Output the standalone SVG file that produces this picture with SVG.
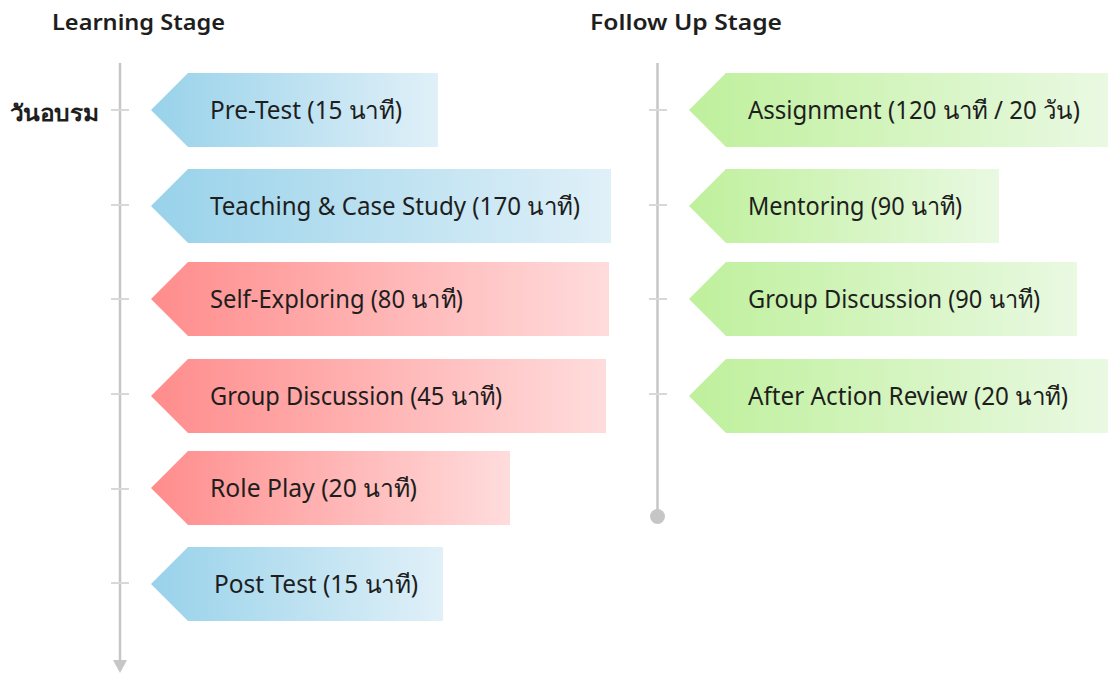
<svg xmlns="http://www.w3.org/2000/svg" width="1108" height="673" viewBox="0 0 1108 673">
<defs>
<linearGradient id="gBlue" x1="0" y1="0" x2="1" y2="0"><stop offset="0" stop-color="#98d2ea"/><stop offset="1" stop-color="#e0f0f8"/></linearGradient>
<linearGradient id="gRed" x1="0" y1="0" x2="1" y2="0"><stop offset="0" stop-color="#ff8c8c"/><stop offset="1" stop-color="#ffdcdc"/></linearGradient>
<linearGradient id="gGreen" x1="0" y1="0" x2="1" y2="0"><stop offset="0" stop-color="#bff09c"/><stop offset="1" stop-color="#e9f9e2"/></linearGradient>
<style>
.lbl{font-family:"Noto Sans","Liberation Sans",sans-serif;font-size:25px;fill:#1e1e1e}
.hdr{font-family:"Noto Sans","Liberation Sans",sans-serif;font-size:22px;font-weight:600;fill:#1e1e1e}
.line{stroke:#c6c6c6;stroke-width:2.5;fill:none}
.tick{stroke:#d8d8d8;stroke-width:2;fill:none}
.blue{fill:url(#gBlue)}
.red{fill:url(#gRed)}
.green{fill:url(#gGreen)}
</style>
</defs>
<rect width="1108" height="673" fill="#ffffff"/>
<text class="hdr" x="52" y="30" textLength="173" lengthAdjust="spacingAndGlyphs">Learning Stage</text>
<text class="hdr" x="590" y="30" textLength="192" lengthAdjust="spacingAndGlyphs">Follow Up Stage</text>
<text class="hdr" x="10" y="121" font-size="28" font-weight="bold" textLength="90" lengthAdjust="spacingAndGlyphs">วันอบรม</text>
<g id="connectors">
<line class="line" x1="120" y1="63" x2="120" y2="661"/>
<polygon points="113,660 127,660 120,673" fill="#c6c6c6"/>
<line class="tick" x1="111" y1="110" x2="129" y2="110"/>
<line class="tick" x1="111" y1="205" x2="129" y2="205"/>
<line class="tick" x1="111" y1="299" x2="129" y2="299"/>
<line class="tick" x1="111" y1="394" x2="129" y2="394"/>
<line class="tick" x1="111" y1="489" x2="129" y2="489"/>
<line class="tick" x1="111" y1="583" x2="129" y2="583"/>
<line class="line" x1="657.5" y1="63" x2="657.5" y2="512"/>
<circle cx="657.5" cy="516.5" r="7.5" fill="#c6c6c6"/>
<line class="tick" x1="649" y1="110" x2="667" y2="110"/>
<line class="tick" x1="649" y1="205" x2="667" y2="205"/>
<line class="tick" x1="649" y1="299" x2="667" y2="299"/>
<line class="tick" x1="649" y1="394" x2="667" y2="394"/>
</g>
<g id="pretest">
<polygon class="blue" points="151,110 188,73 438,73 438,147 188,147"/>
<text class="lbl" x="210" y="119" textLength="192" lengthAdjust="spacingAndGlyphs">Pre-Test (15 นาที)</text>
</g>
<g id="teaching">
<polygon class="blue" points="151,206 188,169 611,169 611,243 188,243"/>
<text class="lbl" x="210" y="215" textLength="370" lengthAdjust="spacingAndGlyphs">Teaching &amp; Case Study (170 นาที)</text>
</g>
<g id="selfexploring">
<polygon class="red" points="151,299 188,262 609,262 609,336 188,336"/>
<text class="lbl" x="210" y="308" textLength="253" lengthAdjust="spacingAndGlyphs">Self-Exploring (80 นาที)</text>
</g>
<g id="groupdiscussion1">
<polygon class="red" points="151,396 188,359 606,359 606,433 188,433"/>
<text class="lbl" x="210" y="405" textLength="292" lengthAdjust="spacingAndGlyphs">Group Discussion (45 นาที)</text>
</g>
<g id="roleplay">
<polygon class="red" points="151,488 188,451 510,451 510,525 188,525"/>
<text class="lbl" x="210" y="497" textLength="207" lengthAdjust="spacingAndGlyphs">Role Play (20 นาที)</text>
</g>
<g id="posttest">
<polygon class="blue" points="151,584 188,547 443,547 443,621 188,621"/>
<text class="lbl" x="214" y="593" textLength="204" lengthAdjust="spacingAndGlyphs">Post Test (15 นาที)</text>
</g>
<g id="assignment">
<polygon class="green" points="689,110 726,73 1108,73 1108,147 726,147"/>
<text class="lbl" x="748" y="119" textLength="332" lengthAdjust="spacingAndGlyphs">Assignment (120 นาที / 20 วัน)</text>
</g>
<g id="mentoring">
<polygon class="green" points="689,206 726,169 999,169 999,243 726,243"/>
<text class="lbl" x="748" y="215" textLength="214" lengthAdjust="spacingAndGlyphs">Mentoring (90 นาที)</text>
</g>
<g id="groupdiscussion2">
<polygon class="green" points="689,299 726,262 1077,262 1077,336 726,336"/>
<text class="lbl" x="748" y="308" textLength="292" lengthAdjust="spacingAndGlyphs">Group Discussion (90 นาที)</text>
</g>
<g id="afteraction">
<polygon class="green" points="689,396 726,359 1108,359 1108,433 726,433"/>
<text class="lbl" x="748" y="405" textLength="320" lengthAdjust="spacingAndGlyphs">After Action Review (20 นาที)</text>
</g>
</svg>
